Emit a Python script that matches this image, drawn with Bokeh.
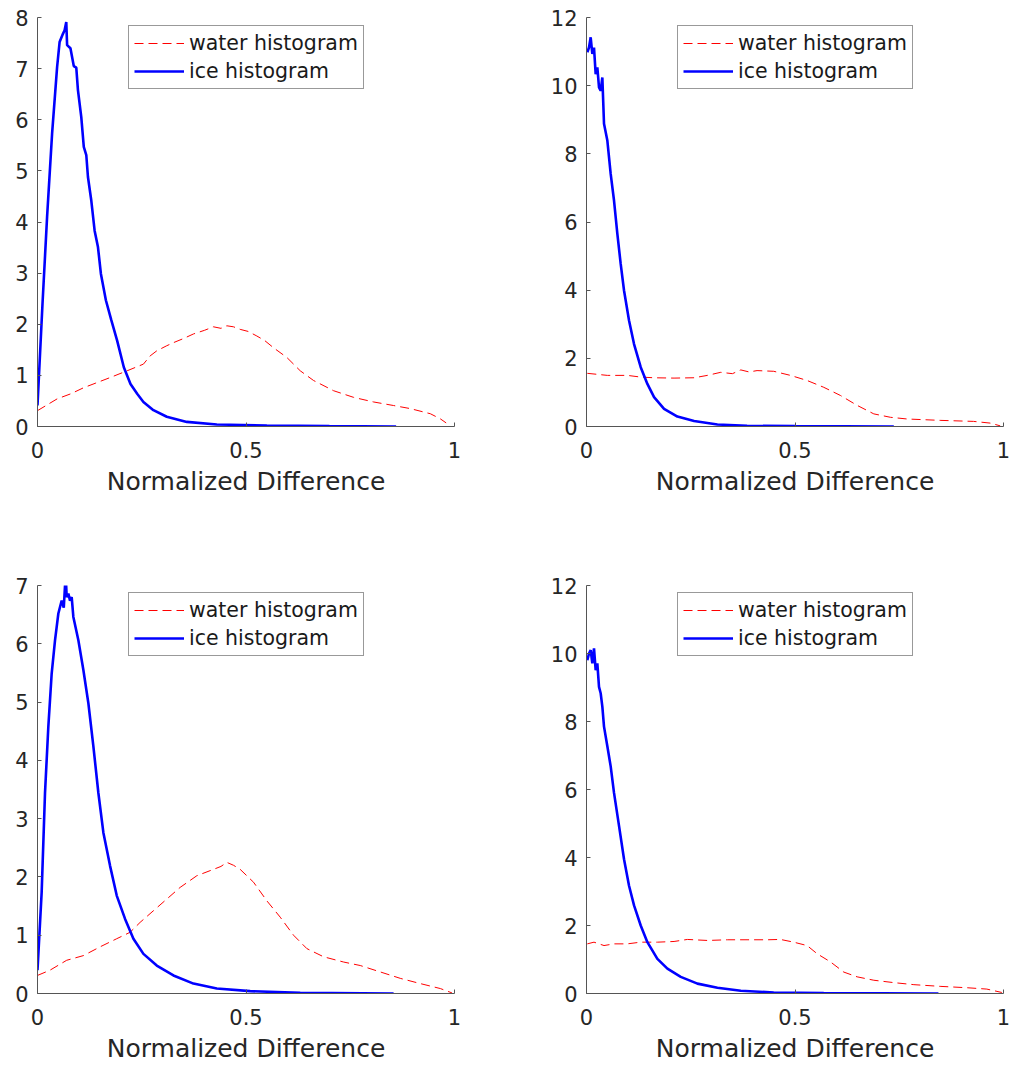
from bokeh.plotting import figure
from bokeh.layouts import gridplot
from bokeh.models import Range1d, FixedTicker, NumeralTickFormatter, Legend, LegendItem
from bokeh.embed import file_html
from bokeh.resources import INLINE

FONT = "DejaVu Sans"

x_ticks = [0, 0.5, 1]
x_label = "Normalized Difference"
legend_labels = ["water histogram", "ice histogram"]

# ---------------- panel 1 (top left) ----------------
p1_y_max = 8
p1_y_ticks = [0, 1, 2, 3, 4, 5, 6, 7, 8]
p1_water_x = [0.0, 0.047, 0.08, 0.111, 0.14, 0.175, 0.215, 0.254, 0.27, 0.286, 0.31, 0.326, 0.35,
              0.374, 0.40, 0.422, 0.44, 0.454, 0.47, 0.486, 0.505, 0.526, 0.545, 0.566, 0.598,
              0.63, 0.662, 0.71, 0.758, 0.806, 0.854, 0.894, 0.942, 0.966, 0.98]
p1_water_y = [0.31, 0.54, 0.64, 0.76, 0.85, 0.96, 1.09, 1.22, 1.38, 1.48, 1.58, 1.64, 1.72,
              1.81, 1.88, 1.95, 1.92, 1.97, 1.95, 1.90, 1.86, 1.77, 1.68, 1.54, 1.35,
              1.09, 0.90, 0.70, 0.57, 0.48, 0.41, 0.35, 0.25, 0.15, 0.07]
p1_ice_x = [0.0, 0.012, 0.023, 0.035, 0.047, 0.053, 0.061, 0.065, 0.069, 0.071, 0.079, 0.087, 0.093,
            0.097, 0.105, 0.111, 0.117, 0.121, 0.129, 0.137, 0.145, 0.152, 0.164, 0.177, 0.191,
            0.207, 0.223, 0.239, 0.254, 0.278, 0.31, 0.358, 0.43, 0.55, 0.70, 0.86]
p1_ice_y = [0.41, 2.4, 4.1, 5.73, 7.03, 7.52, 7.68, 7.75, 7.91, 7.46, 7.40, 7.05, 7.02,
            6.58, 6.05, 5.47, 5.31, 4.88, 4.42, 3.83, 3.51, 2.99, 2.47, 2.08, 1.68,
            1.16, 0.83, 0.64, 0.48, 0.32, 0.19, 0.09, 0.04, 0.02, 0.01, 0.0]

# ---------------- panel 2 (top right) ----------------
p2_y_max = 12
p2_y_ticks = [0, 2, 4, 6, 8, 10, 12]
p2_water_x = [0.002, 0.05, 0.098, 0.13, 0.162, 0.21, 0.258, 0.29, 0.322, 0.35, 0.37, 0.39, 0.409,
              0.449, 0.489, 0.529, 0.569, 0.609, 0.649, 0.689, 0.729, 0.769, 0.848, 0.928, 0.968, 0.992]
p2_water_y = [1.56, 1.50, 1.50, 1.45, 1.43, 1.42, 1.43, 1.50, 1.59, 1.55, 1.66, 1.60, 1.64,
              1.62, 1.50, 1.35, 1.15, 0.91, 0.62, 0.37, 0.27, 0.22, 0.18, 0.15, 0.10, 0.02]
p2_ice_x = [0.002, 0.006, 0.010, 0.014, 0.018, 0.022, 0.026, 0.030, 0.034, 0.038, 0.042, 0.050,
            0.058, 0.066, 0.074, 0.082, 0.090, 0.102, 0.114, 0.130, 0.146, 0.162, 0.186, 0.218,
            0.258, 0.314, 0.385, 0.50, 0.737]
p2_ice_y = [10.98, 11.12, 11.42, 10.93, 11.12, 10.34, 10.54, 9.95, 9.85, 10.24, 8.88, 8.39,
            7.41, 6.63, 5.65, 4.77, 3.99, 3.11, 2.42, 1.74, 1.25, 0.86, 0.52, 0.29,
            0.16, 0.06, 0.02, 0.01, 0.0]

# ---------------- panel 3 (bottom left) ----------------
p3_y_max = 7
p3_y_ticks = [0, 1, 2, 3, 4, 5, 6, 7]
p3_water_x = [0.0, 0.03, 0.07, 0.11, 0.15, 0.19, 0.222, 0.246, 0.278, 0.31, 0.342, 0.382, 0.422,
              0.44, 0.454, 0.47, 0.486, 0.518, 0.55, 0.582, 0.614, 0.646, 0.686, 0.734, 0.774,
              0.822, 0.87, 0.918, 0.966, 0.994]
p3_water_y = [0.31, 0.40, 0.57, 0.65, 0.80, 0.94, 1.05, 1.22, 1.42, 1.62, 1.82, 2.02, 2.13,
              2.18, 2.25, 2.20, 2.13, 1.91, 1.59, 1.31, 1.00, 0.77, 0.63, 0.54, 0.48,
              0.37, 0.26, 0.17, 0.085, 0.01]
p3_ice_x = [0.0, 0.010, 0.018, 0.026, 0.034, 0.042, 0.050, 0.058, 0.063, 0.066, 0.068, 0.070,
            0.074, 0.078, 0.082, 0.086, 0.098, 0.110, 0.122, 0.134, 0.146, 0.158, 0.174, 0.190,
            0.210, 0.230, 0.254, 0.286, 0.326, 0.374, 0.430, 0.510, 0.630, 0.854]
p3_ice_y = [0.40, 1.74, 3.44, 4.58, 5.49, 6.06, 6.52, 6.74, 6.62, 7.00, 7.12, 6.80,
            6.86, 6.74, 6.80, 6.46, 6.06, 5.55, 4.98, 4.24, 3.44, 2.76, 2.19, 1.68,
            1.28, 0.94, 0.68, 0.48, 0.31, 0.17, 0.085, 0.04, 0.01, 0.0]

# ---------------- panel 4 (bottom right) ----------------
p4_y_max = 12
p4_y_ticks = [0, 2, 4, 6, 8, 10, 12]
p4_water_x = [0.002, 0.018, 0.042, 0.066, 0.098, 0.13, 0.17, 0.21, 0.242, 0.29, 0.338, 0.385,
              0.433, 0.465, 0.497, 0.529, 0.553, 0.585, 0.617, 0.649, 0.689, 0.737, 0.785,
              0.848, 0.912, 0.96, 0.996]
p4_water_y = [1.46, 1.51, 1.41, 1.46, 1.46, 1.51, 1.51, 1.53, 1.59, 1.56, 1.58, 1.58,
              1.58, 1.59, 1.51, 1.41, 1.17, 0.93, 0.63, 0.49, 0.39, 0.32, 0.26,
              0.21, 0.17, 0.13, 0.03]
p4_ice_x = [0.002, 0.006, 0.010, 0.014, 0.018, 0.022, 0.026, 0.030, 0.034, 0.038, 0.042, 0.050,
            0.058, 0.066, 0.078, 0.090, 0.102, 0.114, 0.130, 0.146, 0.170, 0.194, 0.226, 0.266,
            0.314, 0.370, 0.449, 0.569, 0.844]
p4_ice_y = [9.80, 10.0, 10.10, 9.71, 10.15, 9.51, 9.71, 9.02, 8.83, 8.44, 7.85, 7.27,
            6.68, 5.90, 4.93, 3.95, 3.17, 2.59, 2.00, 1.51, 1.02, 0.73, 0.49, 0.29,
            0.17, 0.08, 0.03, 0.01, 0.0]


def make_panel(water_x, water_y, ice_x, ice_y, y_max, y_ticks,
               width, height, b_left, b_right, b_top, b_bottom, frame_h, legend_top):
    p = figure(width=width, height=height,
               x_range=Range1d(0, 1), y_range=Range1d(0, y_max),
               output_backend="svg", toolbar_location=None, tools="",
               min_border_left=b_left, min_border_right=b_right,
               min_border_top=b_top, min_border_bottom=b_bottom)
    p.outline_line_color = None
    p.background_fill_color = "white"
    p.border_fill_color = "white"
    p.xgrid.visible = False
    p.ygrid.visible = False

    for ax in (p.xaxis[0], p.yaxis[0]):
        ax.axis_line_color = "#555555"
        ax.axis_line_width = 1
        ax.major_tick_line_color = "#555555"
        ax.major_tick_in = 4
        ax.major_tick_out = 0
        ax.minor_tick_line_color = None
        ax.major_label_text_font = FONT
        ax.major_label_text_font_size = "21px"
        ax.major_label_text_color = "#262626"

    p.xaxis.ticker = FixedTicker(ticks=x_ticks)
    p.xaxis.formatter = NumeralTickFormatter(format="0.[0]")
    p.xaxis.major_label_standoff = 15
    p.xaxis.axis_label = x_label
    p.xaxis.axis_label_text_font = FONT
    p.xaxis.axis_label_text_font_size = "25px"
    p.xaxis.axis_label_text_font_style = "normal"
    p.xaxis.axis_label_text_color = "#262626"
    p.xaxis.axis_label_standoff = 6

    p.yaxis.ticker = FixedTicker(ticks=y_ticks)
    p.yaxis.major_label_standoff = 9

    rw = p.line(water_x, water_y, line_color="#ff0000", line_width=1, line_dash="9 5")
    ri = p.line(ice_x, ice_y, line_color="#0000ff", line_width=2.6)

    legend = Legend(items=[LegendItem(label=legend_labels[0], renderers=[rw]),
                           LegendItem(label=legend_labels[1], renderers=[ri])],
                    location=(91, frame_h - legend_top - 62),
                    orientation="vertical",
                    padding=5, spacing=4, margin=0,
                    glyph_width=50, glyph_height=24, label_height=24,
                    label_standoff=5,
                    label_text_font=FONT, label_text_font_size="20.5px",
                    label_text_color="#1a1a1a",
                    border_line_color="#333333", border_line_width=1,
                    background_fill_color="white", background_fill_alpha=1.0)
    p.add_layout(legend)
    return p


p1 = make_panel(p1_water_x, p1_water_y, p1_ice_x, p1_ice_y, p1_y_max, p1_y_ticks,
                540, 560, 37, 86, 17, 134, 409, 10)
p2 = make_panel(p2_water_x, p2_water_y, p2_ice_x, p2_ice_y, p2_y_max, p2_y_ticks,
                472, 560, 46, 9, 17, 134, 409, 10)
p3 = make_panel(p3_water_x, p3_water_y, p3_ice_x, p3_ice_y, p3_y_max, p3_y_ticks,
                540, 505, 37, 86, 25, 70, 410, 11)
p4 = make_panel(p4_water_x, p4_water_y, p4_ice_x, p4_ice_y, p4_y_max, p4_y_ticks,
                472, 505, 46, 9, 25, 70, 410, 11)

grid = gridplot([[p1, p2], [p3, p4]], toolbar_location=None)

open("out.html", "w").write(file_html(grid, INLINE))
